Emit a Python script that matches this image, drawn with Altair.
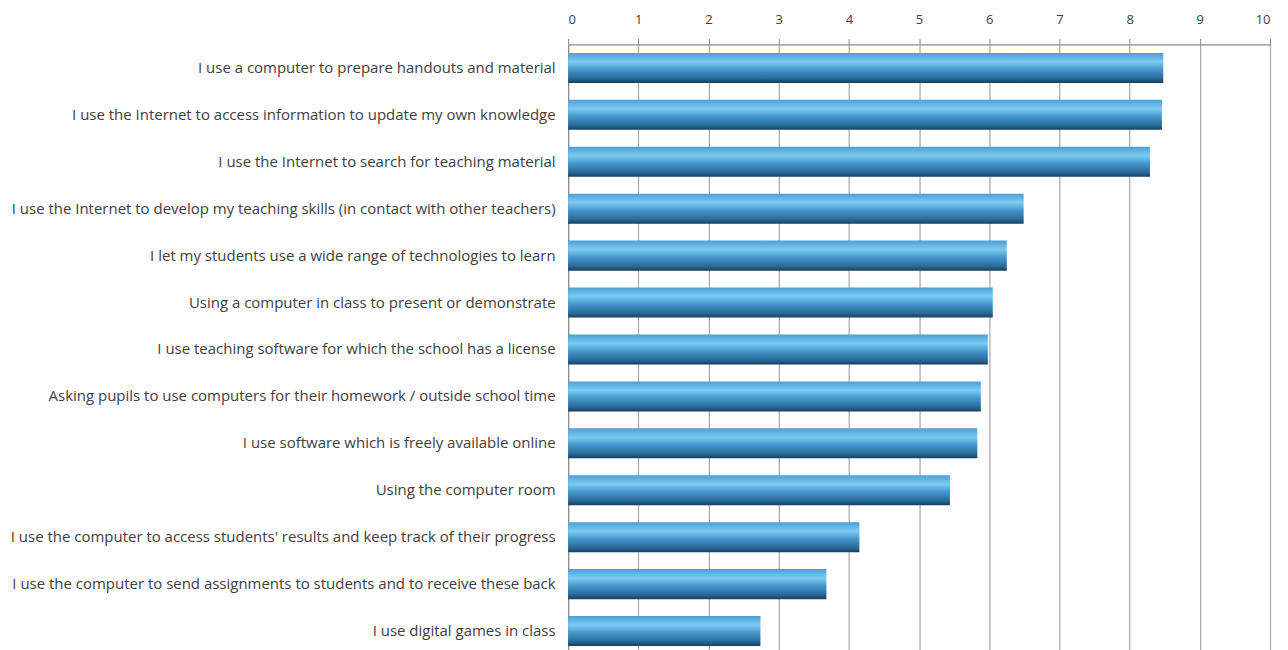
import altair as alt
import pandas as pd

categories = [
    "I use a computer to prepare handouts and material",
    "I use the Internet to access information to update my own knowledge",
    "I use the Internet to search for teaching material",
    "I use the Internet to develop my teaching skills (in contact with other teachers)",
    "I let my students use a wide range of technologies to learn",
    "Using a computer in class to present or demonstrate",
    "I use teaching software for which the school has a license",
    "Asking pupils to use computers for their homework / outside school time",
    "I use software which is freely available online",
    "Using the computer room",
    "I use the computer to access students' results and keep track of their progress",
    "I use the computer to send assignments to students and to receive these back",
    "I use digital games in class",
]
values = [8.48, 8.46, 8.29, 6.49, 6.25, 6.05, 5.98, 5.88, 5.83, 5.44, 4.15, 3.68, 2.74]
x_ticks = list(range(0, 11))

df = pd.DataFrame({"activity": categories, "score": values})

gradient = alt.Gradient(
    gradient="linear",
    x1=0, x2=0, y1=0, y2=1,
    stops=[
        alt.GradientStop(offset=0.0, color="#4a9fd6"),
        alt.GradientStop(offset=0.3, color="#7ccbf3"),
        alt.GradientStop(offset=0.55, color="#4598cf"),
        alt.GradientStop(offset=0.85, color="#2a6a98"),
        alt.GradientStop(offset=1.0, color="#163f5e"),
    ],
)

chart = (
    alt.Chart(df)
    .mark_bar(color=gradient)
    .encode(
        x=alt.X(
            "score:Q",
            scale=alt.Scale(domain=[0, 10], nice=False),
            axis=alt.Axis(
                orient="top",
                values=x_ticks,
                title=None,
                grid=True,
                gridColor="#a6a6a6",
                gridWidth=1.2,
                domainColor="#8c8c8c",
                domainWidth=1.2,
                tickColor="#8c8c8c",
                tickSize=6,
                labelFont="Open Sans",
                labelFontSize=13,
                labelColor="#404040",
                labelPadding=12,
            ),
        ),
        y=alt.Y(
            "activity:N",
            sort=categories,
            scale=alt.Scale(paddingInner=0.36, paddingOuter=0.18),
            axis=alt.Axis(
                title=None,
                ticks=False,
                domainColor="#8c8c8c",
                domainWidth=1.2,
                labelFont="Open Sans",
                labelFontSize=15,
                labelColor="#404040",
                labelPadding=13,
                labelLimit=600,
            ),
        ),
    )
    .properties(
        width=703,
        height=611,
        autosize=alt.AutoSizeParams(type="none"),
        padding={"left": 561, "top": 36, "right": 10, "bottom": 10},
    )
    .configure_view(stroke=None)
)

chart.save("out.html", embed_options={"renderer": "svg", "actions": False})
